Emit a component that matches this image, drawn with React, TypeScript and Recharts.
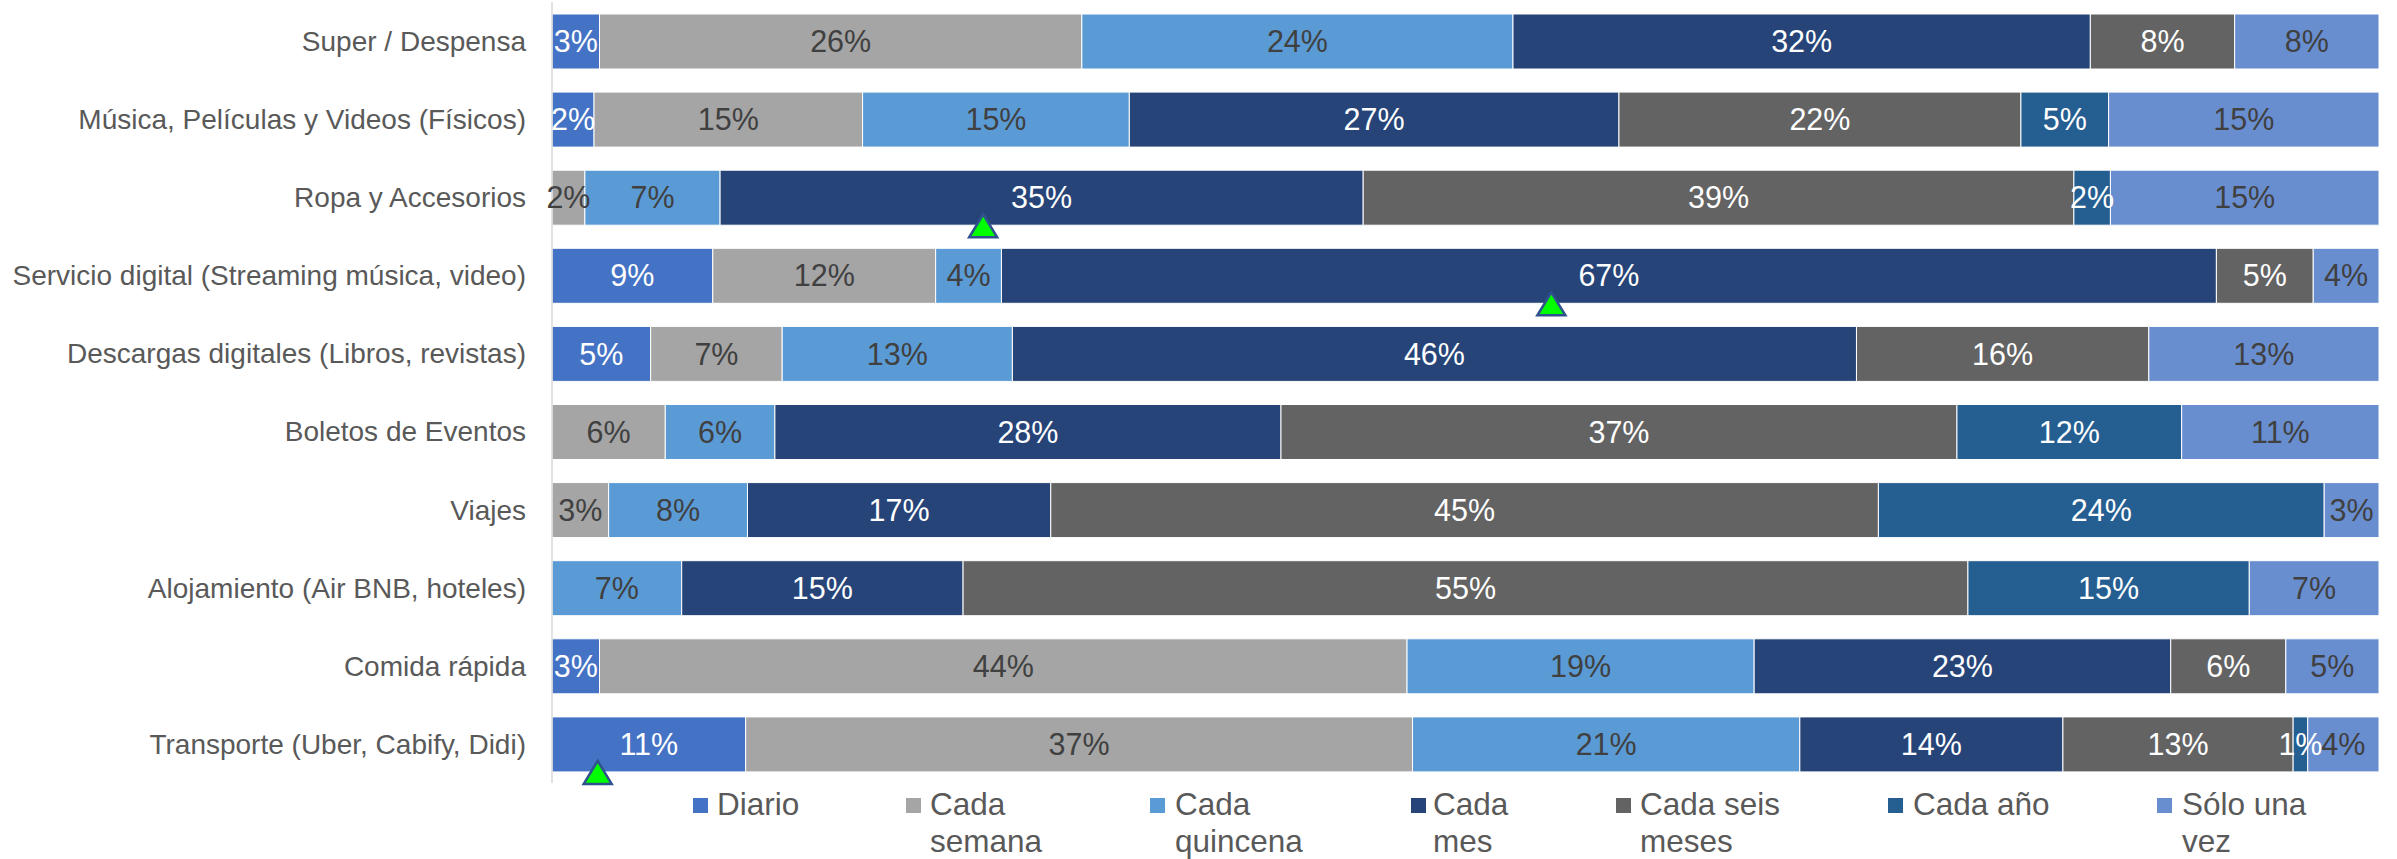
import React from 'react';
import { ComposedChart, Bar, Line, XAxis, YAxis, LabelList } from 'recharts';

// ---- data ----
const categories = [
  'Super / Despensa',
  'Música, Películas y Videos (Físicos)',
  'Ropa y Accesorios',
  'Servicio digital (Streaming música, video)',
  'Descargas digitales (Libros, revistas)',
  'Boletos de Eventos',
  'Viajes',
  'Alojamiento (Air BNB, hoteles)',
  'Comida rápida',
  'Transporte (Uber, Cabify, Didi)',
];

const diario = [2.6, 2.3, 0, 8.8, 5.4, 0, 0, 0, 2.6, 10.6];
const cadaSemana = [26.4, 14.7, 1.8, 12.2, 7.2, 6.2, 3.1, 0, 44.2, 36.5];
const cadaQuincena = [23.6, 14.6, 7.4, 3.6, 12.6, 6.0, 7.6, 7.1, 19.0, 21.2];
const cadaMes = [31.6, 26.8, 35.2, 66.5, 46.2, 27.7, 16.6, 15.4, 22.8, 14.4];
const cadaSeisMeses = [7.9, 22.0, 38.9, 5.3, 16.0, 37.0, 45.3, 55.0, 6.3, 12.6];
const cadaAnio = [0, 4.8, 2.0, 0, 0, 12.3, 24.4, 15.4, 0, 0.8];
const soloUnaVez = [7.9, 14.8, 14.7, 3.6, 12.6, 10.8, 3.0, 7.1, 5.1, 3.9];
const markerValues: (number | null)[] = [null, null, 23.6, 54.7, null, null, null, null, null, 2.5];

const seriesNames = ['Diario', 'Cada semana', 'Cada quincena', 'Cada mes', 'Cada seis meses', 'Cada año', 'Sólo una vez'];
const seriesKeys = ['diario', 'semana', 'quincena', 'mes', 'seis', 'anio', 'unavez'];
const seriesValues = [diario, cadaSemana, cadaQuincena, cadaMes, cadaSeisMeses, cadaAnio, soloUnaVez];

// ---- styles ----
const seriesColors = ['#4472C4', '#A5A5A5', '#5B9BD5', '#264478', '#636363', '#255E91', '#698ED0'];
const labelColors = ['#FFFFFF', '#404040', '#404040', '#FFFFFF', '#FFFFFF', '#FFFFFF', '#404040'];
const FONT = '"Liberation Sans", Arial, Helvetica, sans-serif';
const BAR_SIZE = 55;
const TRI_OFFSET = 29;

const legendLayout = [
  { mx: 693, tx: 717, w: 200 },
  { mx: 906, tx: 930, w: 150 },
  { mx: 1150, tx: 1175, w: 150 },
  { mx: 1411, tx: 1433, w: 110 },
  { mx: 1616, tx: 1640, w: 150 },
  { mx: 1888, tx: 1913, w: 200 },
  { mx: 2157, tx: 2182, w: 150 },
];

const rows = categories.map((name, i) => {
  const r: any = { name, marker: markerValues[i] };
  seriesKeys.forEach((k, s) => {
    r[k] = seriesValues[s][i];
  });
  return r;
});

const makeLabel = (color: string) => (props: any) => {
  const vb = props.viewBox || {};
  const x = typeof props.x === 'number' ? props.x : vb.x;
  const y = typeof props.y === 'number' ? props.y : vb.y;
  const width = typeof props.width === 'number' ? props.width : vb.width;
  const height = typeof props.height === 'number' ? props.height : vb.height;
  let v = props.value;
  if (Array.isArray(v)) v = v[1] - v[0];
  if (typeof v !== 'number' || !(v > 0) || x == null || y == null) return null;
  return (
    <text
      x={x + width / 2}
      y={y + height / 2}
      dy="0.35em"
      textAnchor="middle"
      fill={color}
      fontSize={30.5}
      fontFamily={FONT}
    >
      {Math.round(v)}%
    </text>
  );
};

const renderTriangle = (p: any) => {
  const { cx, cy, index } = p;
  const v = p.payload ? p.payload.marker : p.value;
  if (v == null || cx == null || cy == null || isNaN(cx) || isNaN(cy)) return <g key={`t-${index}`} />;
  const c = cy + TRI_OFFSET;
  return (
    <path
      key={`t-${index}`}
      d={`M${cx},${c - 12} L${cx + 14},${c + 11} L${cx - 14},${c + 11} Z`}
      fill="#00FF00"
      stroke="#2F528F"
      strokeWidth={2.5}
      strokeLinejoin="miter"
    />
  );
};

export default function App() {
  return (
    <div style={{ position: 'absolute', left: 0, top: 0, width: 2397, height: 859, background: '#fff', fontFamily: FONT }}>
      <ComposedChart
        width={2397}
        height={859}
        data={rows}
        layout="vertical"
        margin={{ top: 2, right: 18, bottom: 76, left: 0 }}
        barSize={BAR_SIZE}
      >
        <XAxis type="number" domain={[0, 100]} hide allowDataOverflow />
        <YAxis
          type="category"
          dataKey="name"
          width={552}
          interval={0}
          tickLine={false}
          tickMargin={20}
          axisLine={{ stroke: '#D9D9D9', strokeWidth: 1.5 }}
          tick={{ fill: '#595959', fontSize: 28, fontFamily: FONT }}
        />
        {seriesKeys.map((k, s) => (
          <Bar
            key={k}
            dataKey={k}
            name={seriesNames[s]}
            stackId="a"
            fill={seriesColors[s]}
            stroke="#FFFFFF"
            strokeWidth={1}
            isAnimationActive={false}
          >
            <LabelList dataKey={k} content={makeLabel(labelColors[s])} />
          </Bar>
        ))}
        <Line
          dataKey="marker"
          stroke="none"
          dot={renderTriangle}
          activeDot={false}
          legendType="none"
          isAnimationActive={false}
        />
      </ComposedChart>
      {seriesNames.map((n, s) => (
        <React.Fragment key={n}>
          <div
            style={{
              position: 'absolute',
              left: legendLayout[s].mx,
              top: 798,
              width: 15,
              height: 15,
              background: seriesColors[s],
            }}
          />
          <div
            style={{
              position: 'absolute',
              left: legendLayout[s].tx,
              top: 785.6,
              width: legendLayout[s].w,
              fontSize: 31.5,
              lineHeight: '37px',
              color: '#595959',
              fontFamily: FONT,
              whiteSpace: 'normal',
            }}
          >
            {n}
          </div>
        </React.Fragment>
      ))}
    </div>
  );
}
